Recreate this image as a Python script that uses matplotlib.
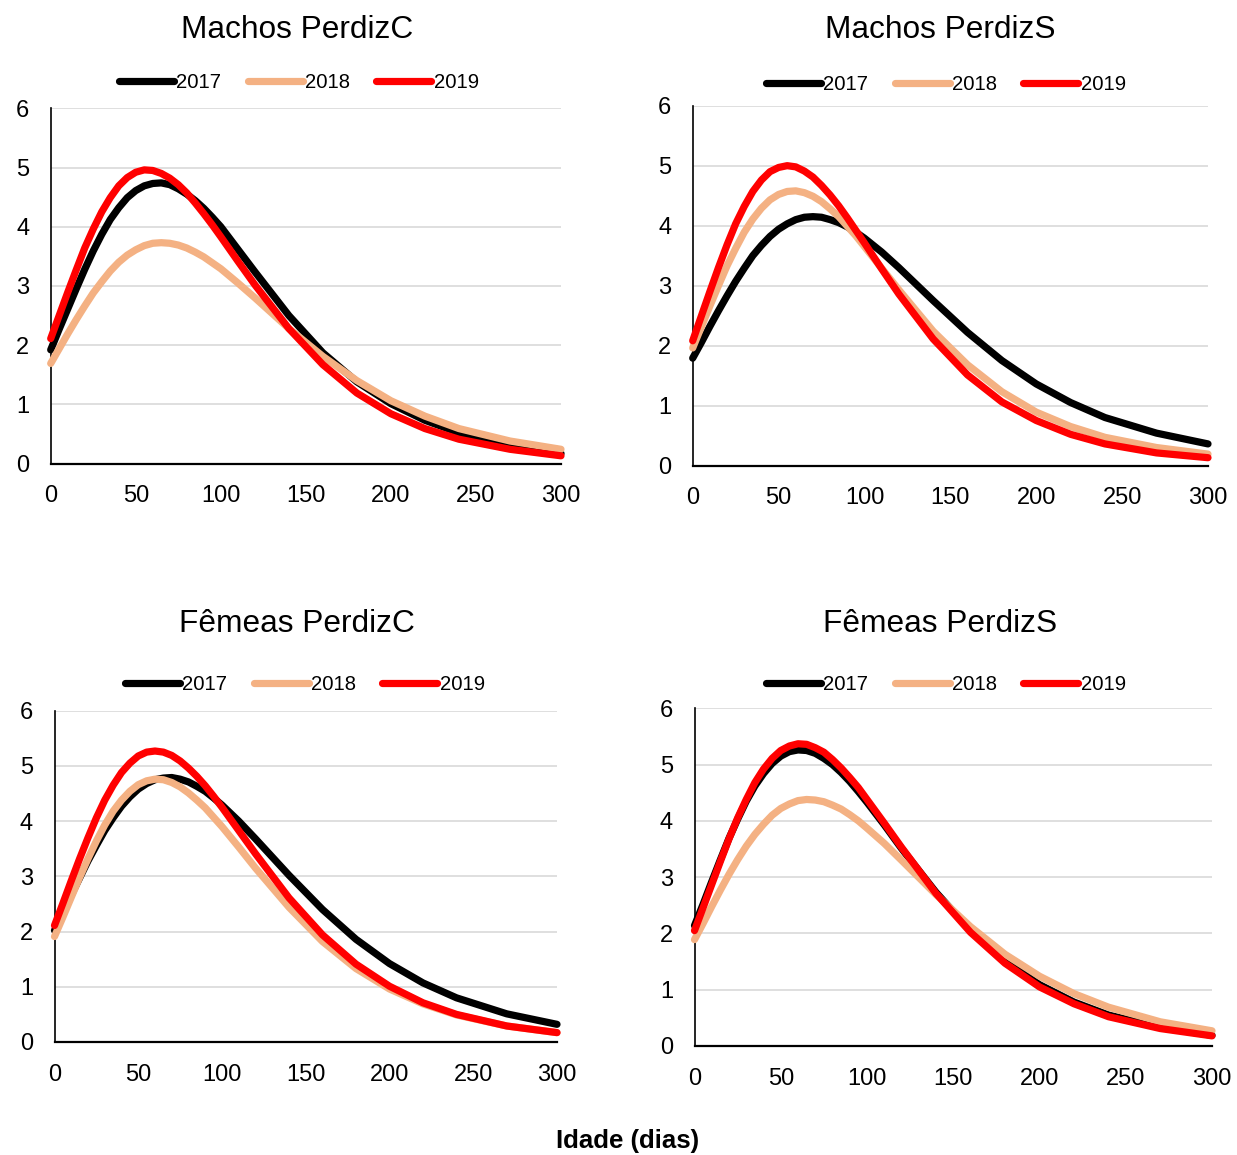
import matplotlib
matplotlib.use("Agg")
import matplotlib.pyplot as plt

plt.rcParams['font.family'] = ['Liberation Sans', 'DejaVu Sans']

W, H = 1237, 1155

dias = [0, 5, 10, 15, 20, 25, 30, 35, 40, 45, 50, 55, 60, 65, 70, 75, 80, 85, 90, 95,
        100, 110, 120, 140, 160, 180, 200, 220, 240, 270, 300]
anos = ['2017', '2018', '2019']
cores = ['#000000', '#F4B183', '#FF0000']

# Machos PerdizC
mc_2017 = [1.92, 2.27, 2.61, 2.95, 3.28, 3.59, 3.87, 4.12, 4.32, 4.49, 4.61, 4.69, 4.73, 4.74,
           4.71, 4.64, 4.55, 4.44, 4.31, 4.16, 4.00, 3.62, 3.24, 2.50, 1.87, 1.38, 1.01, 0.73,
           0.52, 0.31, 0.17]
mc_2018 = [1.69, 1.94, 2.19, 2.43, 2.66, 2.88, 3.07, 3.25, 3.40, 3.52, 3.61, 3.68, 3.72, 3.73,
           3.72, 3.69, 3.64, 3.57, 3.49, 3.39, 3.29, 3.05, 2.80, 2.28, 1.81, 1.40, 1.06, 0.80,
           0.59, 0.38, 0.24]
mc_2019 = [2.11, 2.50, 2.89, 3.27, 3.64, 3.96, 4.25, 4.49, 4.69, 4.83, 4.92, 4.96, 4.95, 4.90,
           4.82, 4.71, 4.57, 4.40, 4.22, 4.03, 3.83, 3.42, 3.02, 2.28, 1.67, 1.19, 0.84, 0.59,
           0.41, 0.24, 0.13]

# Machos PerdizS
ms_2017 = [1.79, 2.05, 2.32, 2.58, 2.83, 3.07, 3.29, 3.50, 3.67, 3.82, 3.94, 4.03, 4.10, 4.14,
           4.15, 4.14, 4.10, 4.05, 3.98, 3.89, 3.79, 3.56, 3.30, 2.75, 2.22, 1.75, 1.36, 1.05,
           0.80, 0.54, 0.36]
ms_2018 = [1.96, 2.31, 2.66, 3.00, 3.33, 3.62, 3.89, 4.11, 4.29, 4.43, 4.52, 4.57, 4.58, 4.55,
           4.49, 4.40, 4.28, 4.15, 3.99, 3.83, 3.65, 3.29, 2.93, 2.24, 1.68, 1.23, 0.89, 0.65,
           0.47, 0.30, 0.19]
ms_2019 = [2.08, 2.49, 2.90, 3.30, 3.68, 4.03, 4.32, 4.57, 4.76, 4.90, 4.97, 5.00, 4.98, 4.91,
           4.81, 4.67, 4.51, 4.33, 4.13, 3.92, 3.71, 3.28, 2.86, 2.11, 1.51, 1.06, 0.75, 0.52,
           0.36, 0.21, 0.13]

# Fêmeas PerdizC
fc_2017 = [2.02, 2.34, 2.66, 2.97, 3.28, 3.56, 3.83, 4.06, 4.27, 4.44, 4.58, 4.68, 4.75, 4.78,
           4.79, 4.76, 4.71, 4.63, 4.54, 4.42, 4.29, 4.00, 3.68, 3.02, 2.40, 1.86, 1.42, 1.07,
           0.80, 0.51, 0.32]
fc_2018 = [1.91, 2.26, 2.62, 2.98, 3.32, 3.64, 3.93, 4.18, 4.38, 4.54, 4.66, 4.73, 4.76, 4.75,
           4.70, 4.62, 4.51, 4.38, 4.24, 4.07, 3.90, 3.53, 3.15, 2.44, 1.82, 1.33, 0.96, 0.69,
           0.49, 0.29, 0.17]
fc_2019 = [2.11, 2.51, 2.92, 3.32, 3.70, 4.06, 4.38, 4.65, 4.88, 5.05, 5.18, 5.25, 5.27, 5.25,
           5.19, 5.09, 4.96, 4.81, 4.64, 4.45, 4.25, 3.83, 3.41, 2.61, 1.94, 1.41, 1.01, 0.71,
           0.50, 0.29, 0.17]

# Fêmeas PerdizS
fs_2017 = [2.14, 2.52, 2.92, 3.31, 3.69, 4.03, 4.35, 4.62, 4.84, 5.02, 5.15, 5.23, 5.26, 5.25,
           5.20, 5.11, 5.00, 4.86, 4.70, 4.52, 4.33, 3.93, 3.51, 2.73, 2.05, 1.51, 1.09, 0.78,
           0.55, 0.33, 0.19]
fs_2018 = [1.89, 2.18, 2.48, 2.77, 3.05, 3.31, 3.55, 3.76, 3.94, 4.10, 4.22, 4.30, 4.36, 4.38,
           4.37, 4.34, 4.28, 4.21, 4.11, 4.00, 3.87, 3.60, 3.30, 2.69, 2.12, 1.63, 1.24, 0.93,
           0.69, 0.43, 0.27]
fs_2019 = [2.05, 2.46, 2.87, 3.28, 3.68, 4.05, 4.38, 4.68, 4.92, 5.11, 5.25, 5.33, 5.37, 5.36,
           5.30, 5.22, 5.09, 4.94, 4.77, 4.59, 4.38, 3.96, 3.53, 2.71, 2.02, 1.47, 1.05, 0.75,
           0.52, 0.31, 0.18]

titulos = ['Machos PerdizC', 'Machos PerdizS', 'Fêmeas PerdizC', 'Fêmeas PerdizS']
series = [[mc_2017, mc_2018, mc_2019], [ms_2017, ms_2018, ms_2019],
          [fc_2017, fc_2018, fc_2019], [fs_2017, fs_2018, fs_2019]]

# pixel boxes (x0, x1, y_top, y_bottom), title centre, legend centre
caixas = [(50.7, 561, 108.3, 463.5), (692.7, 1208, 105.7, 465.5),
          (54.5, 557, 710.7, 1042), (694.5, 1212, 708.3, 1046)]
pos_tit = [(297, 30), (940, 30), (297, 624), (940, 624)]
pos_leg = [(299, 83), (946, 85), (305, 685), (946, 685)]

fig = plt.figure(figsize=(W / 100, H / 100), dpi=100)

for i in range(4):
    x0, x1, yt, yb = caixas[i]
    ax = fig.add_axes([x0 / W, 1 - yb / H, (x1 - x0) / W, (yb - yt) / H])
    for j in range(3):
        ax.plot(dias, series[i][j], color=cores[j], lw=5.2, label=anos[j],
                solid_capstyle='round', solid_joinstyle='round', clip_on=False, zorder=3 + j)
    ax.set_xlim(0, 300)
    ax.set_ylim(0, 6)
    ax.set_xticks(range(0, 301, 50))
    ax.set_yticks(range(0, 7))
    ax.grid(axis='y', color='#d9d9d9', lw=1.2)
    ax.set_axisbelow(True)
    for s in ['top', 'right']:
        ax.spines[s].set_visible(False)
    ax.spines['left'].set_linewidth(1.2)
    ax.spines['bottom'].set_linewidth(1.6)
    ax.tick_params(length=0, pad=15.5, labelsize=17)

    tx, ty = pos_tit[i]
    fig.text(tx / W, 1 - ty / H, titulos[i], fontsize=22.8, ha='center', va='center')

    lx, ly = pos_leg[i]
    ax.legend(loc='center', bbox_to_anchor=(lx / W, 1 - ly / H), bbox_transform=fig.transFigure,
              ncol=3, frameon=False, fontsize=14.6, handlelength=2.7, handletextpad=0.12,
              columnspacing=1.3, borderpad=0, borderaxespad=0)

fig.text(628 / W, 1 - 1141 / H, 'Idade (dias)', fontsize=18.5, fontweight='bold',
         ha='center', va='center')

fig.savefig('out.png', dpi=100)
